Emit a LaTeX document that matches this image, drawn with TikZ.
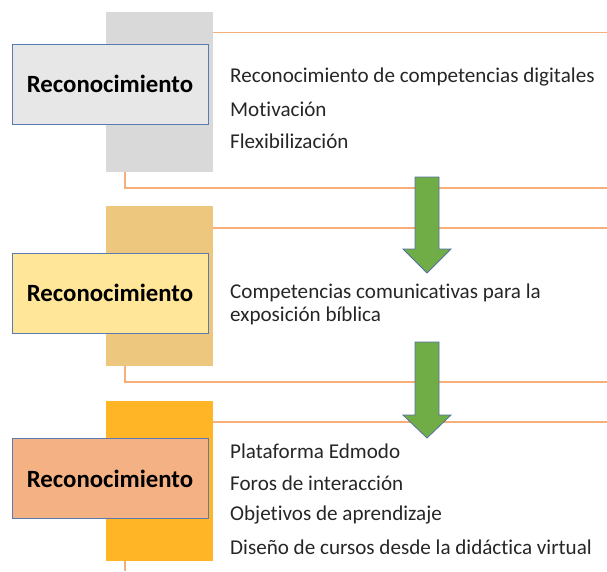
\documentclass[tikz,border=0pt]{standalone}
\usepackage{fontspec}
\setmainfont{Carlito}[Ligatures=NoCommon]
\definecolor{barA}{HTML}{D9D9D9}
\definecolor{boxA}{HTML}{E7E7E7}
\definecolor{barB}{HTML}{EDC77E}
\definecolor{boxB}{HTML}{FFE699}
\definecolor{barC}{HTML}{FFB526}
\definecolor{boxC}{HTML}{F4B183}
\definecolor{rule}{HTML}{F6AE7B}
\definecolor{edge}{HTML}{5A7AB0}
\definecolor{arrowgreen}{HTML}{70AD47}
\definecolor{arrowedge}{HTML}{5470A0}
\tikzset{
  bar/.style={fill=#1, draw=none, inner sep=0pt, minimum width=107pt, minimum height=160pt},
  titlebox/.style={fill=#1, draw=edge, line width=0.9pt, inner sep=0pt, minimum width=196pt, minimum height=80pt, font=\fontsize{24.8}{28}\selectfont\bfseries},
  item/.style={anchor=west, inner sep=0pt, font=\fontsize{21.1}{24}\selectfont, text=black!85},
  rulestyle/.style={draw=rule, line width=1.3pt},
  bigarrow/.style={fill=arrowgreen, draw=arrowedge, line width=0.8pt, line join=miter}
}
\begin{document}
\begin{tikzpicture}[x=1pt, y=-1pt]
\useasboundingbox (0,0) rectangle (607,571);
% section 1
\node[bar=barA] (barA) at (159,92) {};
\node[titlebox=boxA] (boxA) at (110,84) {Reconocimiento};
\coordinate (topA) at (607,32.5);
\coordinate (cornA) at (125,188);
\coordinate (endA) at (607,188);
\draw[rulestyle] (barA.east |- topA) -- (topA);
\draw[rulestyle] (barA.south -| cornA) -- (cornA) -- (endA);
\node[item] (a1) at (230,77) {Reconocimiento de competencias digitales};
\node[item] (a2) at (230,109) {Motivación};
\node[item] (a3) at (230,141) {Flexibilización};
% section 2
\node[bar=barB] (barB) at (159,286) {};
\node[titlebox=boxB] (boxB) at (110,293) {Reconocimiento};
\coordinate (topB) at (607,228);
\coordinate (cornB) at (125,382);
\coordinate (endB) at (607,382);
\draw[rulestyle] (barB.east |- topB) -- (topB);
\draw[rulestyle] (barB.south -| cornB) -- (cornB) -- (endB);
\node[item] (b1) at (230,293) {Competencias comunicativas para la};
\node[item] (b2) at (230,316) {exposición bíblica};
% section 3
\node[bar=barC] (barC) at (159,480.5) {};
\node[titlebox=boxC] (boxC) at (110,478.5) {Reconocimiento};
\coordinate (topC) at (607,422);
\coordinate (cornC) at (125,571);
\draw[rulestyle] (barC.east |- topC) -- (topC);
\draw[rulestyle] (barC.south -| cornC) -- (cornC);
\node[item] (c1) at (230,451) {Plataforma Edmodo};
\node[item] (c2) at (230,483) {Foros de interacción};
\node[item] (c3) at (230,515) {Objetivos de aprendizaje};
\node[item] (c4) at (230,547) {Diseño de cursos desde la didáctica virtual};
% arrows
\draw[bigarrow] (415,177) -- (439,177) -- (439,249) -- (451,249) -- (427,273) -- (403,249) -- (415,249) -- cycle;
\draw[bigarrow] (415,342) -- (439,342) -- (439,415) -- (451,415) -- (427,438) -- (403,415) -- (415,415) -- cycle;
\end{tikzpicture}
\end{document}
